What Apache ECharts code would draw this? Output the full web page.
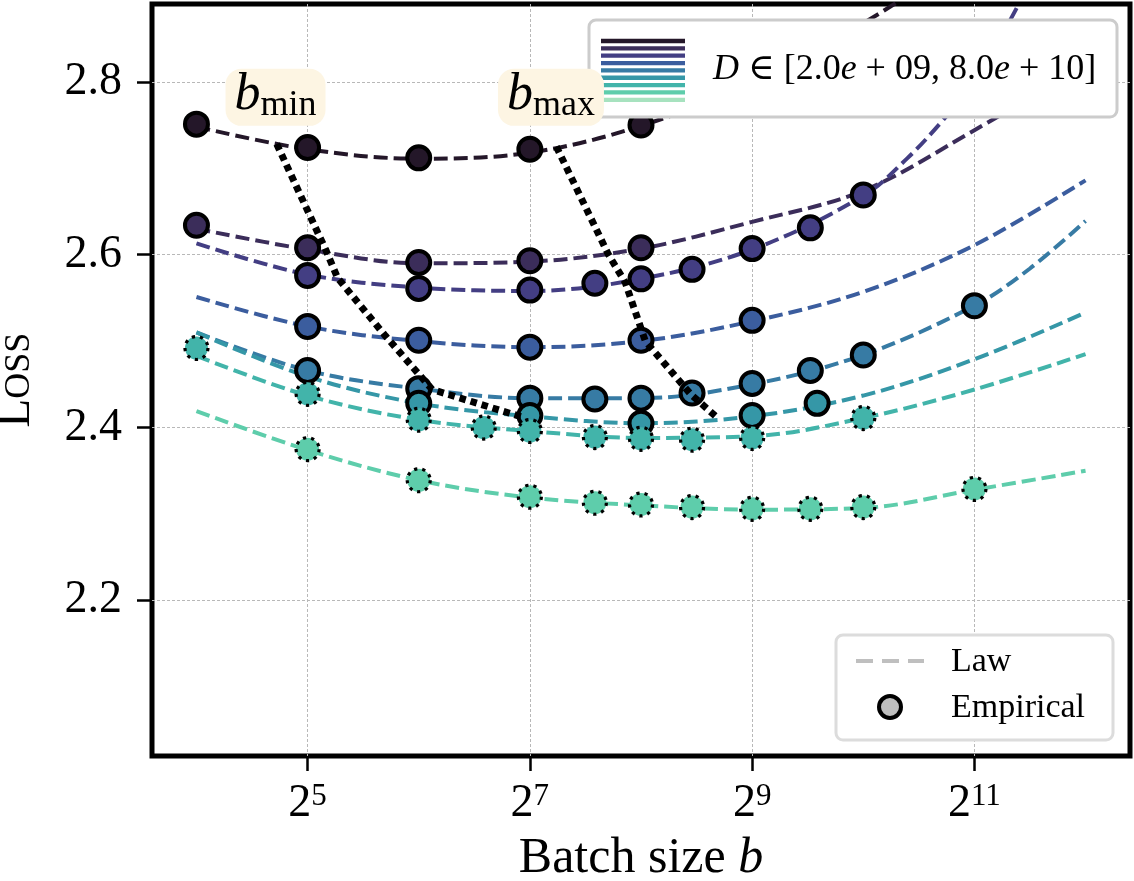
<!DOCTYPE html>
<html>
<head>
<meta charset="utf-8">
<title>Loss vs batch size</title>
<script src="https://cdn.jsdelivr.net/npm/echarts@6.0.0/dist/echarts.min.js"></script>
<style>
  html, body { margin: 0; padding: 0; background: #fff; }
  #chart { width: 1134px; height: 881px; }
</style>
</head>
<body>
<div id="chart"></div>
<script>
// empirical runs, one pair per data size D (darkest = smallest D)
var batchA = [16, 32, 64, 128, 256];
var lossA  = [2.751, 2.724, 2.712, 2.722, 2.750];
var batchB = [16, 32, 64, 128, 256];
var lossB  = [2.634, 2.608, 2.591, 2.593, 2.608];
var batchC = [32, 64, 128, 192, 256, 352, 512, 736, 1024];
var lossC  = [2.576, 2.561, 2.559, 2.567, 2.572, 2.583, 2.607, 2.631, 2.669];
var batchD = [32, 64, 128, 256, 512];
var lossD  = [2.517, 2.501, 2.493, 2.501, 2.524];
var batchE = [32, 64, 128, 192, 256, 352, 512, 736, 1024, 2048];
var lossE  = [2.466, 2.445, 2.434, 2.433, 2.434, 2.440, 2.451, 2.466, 2.484, 2.541];
var batchF = [64, 128, 256, 512, 768];
var lossF  = [2.428, 2.414, 2.405, 2.414, 2.428];
var batchG = [16, 32, 64, 96, 128, 192, 256, 352, 512, 1024];
var lossG  = [2.492, 2.439, 2.409, 2.400, 2.396, 2.389, 2.387, 2.386, 2.388, 2.411];
var batchH = [32, 64, 128, 192, 256, 352, 512, 736, 1024, 2048];
var lossH  = [2.375, 2.339, 2.320, 2.313, 2.311, 2.308, 2.306, 2.306, 2.308, 2.329];

// fitted law
var lawBatch = [16, 32, 64, 128, 256, 512, 1024, 2048, 4096];
var lawBatchA = [16, 32, 64, 128, 256, 512, 1024, 1351];
var lawA = [2.748, 2.722, 2.711, 2.718, 2.749, 2.800, 2.868, 2.900];
var lawB = [2.630, 2.606, 2.590, 2.592, 2.607, 2.638, 2.674, 2.744, 2.820];
var lawBatchC = [16, 32, 64, 128, 256, 512, 1024, 1351, 1663, 2048, 2702];
var lawC = [2.613, 2.577, 2.562, 2.558, 2.572, 2.606, 2.668, 2.712, 2.753, 2.800, 2.890];
var lawD = [2.551, 2.517, 2.500, 2.493, 2.500, 2.523, 2.557, 2.611, 2.686];
var lawBatchE = [16, 32, 64, 128, 256, 512, 1024, 2048, 2896, 4096];
var lawE = [2.510, 2.466, 2.445, 2.434, 2.434, 2.450, 2.484, 2.541, 2.584, 2.639];
var lawF = [2.510, 2.459, 2.428, 2.413, 2.405, 2.413, 2.437, 2.479, 2.533];
var lawG = [2.483, 2.437, 2.409, 2.396, 2.388, 2.390, 2.411, 2.444, 2.485];
var lawH = [2.419, 2.374, 2.339, 2.319, 2.310, 2.305, 2.307, 2.328, 2.350];

// b_min / b_max frontiers
var bminBatch = [26.4, 35.8, 38.6, 52.0, 69.6, 124.5];
var bminLoss  = [2.728, 2.606, 2.573, 2.506, 2.444, 2.411];
var bmaxBatch = [151, 209, 232, 263, 350, 413];
var bmaxLoss  = [2.725, 2.600, 2.568, 2.500, 2.438, 2.411];

var xTicks = [5, 7, 9, 11];
var yTicks = [2.2, 2.4, 2.6, 2.8];
var colors = ['#241729', '#3b2d5a', '#433e83', '#3b5d9e', '#377ba4', '#3597a7', '#42b4aa', '#5ecdab', '#a7e2bf'];

var FONT = '"Liberation Serif", "DejaVu Serif", serif';

var runs = [
  {name: 'A', b: batchA, l: lossA, lb: lawBatchA, ll: lawA, dotted: false},
  {name: 'B', b: batchB, l: lossB, lb: lawBatch, ll: lawB, dotted: false},
  {name: 'C', b: batchC, l: lossC, lb: lawBatchC, ll: lawC, dotted: false},
  {name: 'D', b: batchD, l: lossD, lb: lawBatch, ll: lawD, dotted: false},
  {name: 'E', b: batchE, l: lossE, lb: lawBatchE, ll: lawE, dotted: false},
  {name: 'F', b: batchF, l: lossF, lb: lawBatch, ll: lawF, dotted: false},
  {name: 'G', b: batchG, l: lossG, lb: lawBatch, ll: lawG, dotted: true},
  {name: 'H', b: batchH, l: lossH, lb: lawBatch, ll: lawH, dotted: true}
];

function pairs(bs, ls) {
  return bs.map(function (b, i) { return [Math.log2(b), ls[i]]; });
}

var series = [];
runs.forEach(function (r, i) {
  series.push({
    name: 'law' + r.name,
    type: 'line',
    data: pairs(r.lb, r.ll),
    smooth: 0.35,
    symbol: 'none',
    clip: true,
    silent: true,
    z: 2,
    lineStyle: {color: colors[i], width: 4, type: [14, 6]}
  });
});
runs.forEach(function (r, i) {
  series.push({
    name: 'emp' + r.name,
    type: 'scatter',
    data: pairs(r.b, r.l),
    symbol: 'circle',
    symbolSize: 23,
    silent: true,
    z: 3,
    itemStyle: r.dotted
      ? {color: colors[i], opacity: 1, borderColor: '#000', borderWidth: 3.2, borderType: [3.2, 5]}
      : {color: colors[i], opacity: 1, borderColor: '#000', borderWidth: 4}
  });
});
series.push({
  name: 'bmin', type: 'line', data: pairs(bminBatch, bminLoss),
  symbol: 'none', silent: true, z: 4,
  lineStyle: {color: '#000', width: 7, type: [6.5, 5]}
});
series.push({
  name: 'bmax', type: 'line', data: pairs(bmaxBatch, bmaxLoss),
  symbol: 'none', silent: true, z: 4,
  lineStyle: {color: '#000', width: 7, type: [6.5, 5]}
});

var chart = echarts.init(document.getElementById('chart'), null, {renderer: 'canvas'});

var option = {
  animation: false,
  backgroundColor: '#fff',
  grid: {
    left: 152, right: 4, top: 4, bottom: 125,
    show: true, borderColor: '#000', borderWidth: 5,
    containLabel: false, outerBoundsMode: 'none'
  },
  xAxis: {
    type: 'value',
    min: 3.6, max: 12.4,
    axisLine: {show: false},
    axisTick: {show: true, length: 15, customValues: xTicks, lineStyle: {color: '#000', width: 2.5}},
    axisLabel: {
      customValues: xTicks,
      margin: 25,
      formatter: function (v) { return '{base|2}{sup|' + Math.round(v) + '}'; },
      rich: {
        base: {fontFamily: FONT, fontSize: 46, lineHeight: 46, color: '#000', verticalAlign: 'bottom'},
        sup: {fontFamily: FONT, fontSize: 31, lineHeight: 31, color: '#000', verticalAlign: 'bottom', padding: [0, 0, 15, 0]}
      }
    },
    splitLine: {show: true, lineStyle: {color: '#b8b8b8', width: 1, type: [3, 2]}},
    name: '{t|Batch size }{i|b}',
    nameLocation: 'middle',
    nameGap: 78,
    nameTextStyle: {
      rich: {
        t: {fontFamily: FONT, fontSize: 50, lineHeight: 50, color: '#000'},
        i: {fontFamily: FONT, fontSize: 50, lineHeight: 50, fontStyle: 'italic', color: '#000'}
      }
    }
  },
  yAxis: {
    type: 'value',
    min: 2.02, max: 2.89,
    axisLine: {show: false},
    axisTick: {show: true, length: 15, customValues: yTicks, lineStyle: {color: '#000', width: 2.5}},
    axisLabel: {
      customValues: yTicks,
      margin: 30,
      formatter: function (v) { return v.toFixed(1); },
      fontFamily: FONT, fontSize: 46, color: '#000'
    },
    splitLine: {show: true, lineStyle: {color: '#b8b8b8', width: 1, type: [3, 2]}},
    name: '{L|L}{s|OSS}',
    nameLocation: 'middle',
    nameGap: 112,
    nameTextStyle: {
      rich: {
        L: {fontFamily: FONT, fontSize: 47, lineHeight: 47, color: '#000', verticalAlign: 'bottom'},
        s: {fontFamily: FONT, fontSize: 36, lineHeight: 36, color: '#000', verticalAlign: 'bottom', padding: [0, 0, 2, 0]}
      }
    }
  },
  series: series
};
chart.setOption(option);

// annotations and legends
var labelBatch = [26.2, 146];
var labelLoss = [2.782, 2.782];
var labelSub = ['min', 'max'];

var g = [];
g.push({type: 'rect', z: 100, shape: {x: 589, y: 20, width: 528, height: 97, r: 7},
  style: {fill: '#fff', stroke: '#cccccc', lineWidth: 3}});
colors.forEach(function (c, i) {
  var y = 41 + i * 7.35;
  g.push({type: 'line', z: 101, shape: {x1: 601, y1: y, x2: 685, y2: y}, style: {stroke: c, lineWidth: 4.3}});
});
g.push({type: 'text', z: 101, x: 713, y: 70, style: {
  text: '{i|D}{n| ∈ [2.0}{i|e}{n| + 09, 8.0}{i|e}{n| + 10]}',
  verticalAlign: 'middle', align: 'left',
  rich: {
    i: {fontFamily: FONT, fontSize: 36, fontStyle: 'italic', fill: '#000'},
    n: {fontFamily: FONT, fontSize: 36, fill: '#000'}
  }
}});

g.push({type: 'rect', z: 100, shape: {x: 836, y: 635, width: 277, height: 105, r: 7},
  style: {fill: '#fff', stroke: '#dcdcdc', lineWidth: 3}});
g.push({type: 'line', z: 101, shape: {x1: 856, y1: 661, x2: 924, y2: 661},
  style: {stroke: '#bfbfbf', lineWidth: 4, lineDash: [17, 9]}});
g.push({type: 'text', z: 101, x: 951, y: 662, style: {text: 'Law', fontFamily: FONT, fontSize: 34, fill: '#000', verticalAlign: 'middle'}});
g.push({type: 'circle', z: 101, shape: {cx: 890, cy: 707, r: 11},
  style: {fill: '#bfbfbf', stroke: '#000', lineWidth: 4}});
g.push({type: 'text', z: 101, x: 951, y: 708, style: {text: 'Empirical', fontFamily: FONT, fontSize: 34, fill: '#000', verticalAlign: 'middle'}});

labelBatch.forEach(function (b, i) {
  var p = chart.convertToPixel({gridIndex: 0}, [Math.log2(b), labelLoss[i]]);
  g.push({type: 'text', z: 110, x: p[0], y: p[1], style: {
    text: '{b|b}{s|' + labelSub[i] + '}',
    align: 'center', verticalAlign: 'middle',
    backgroundColor: '#fdf5e3', borderRadius: 16, padding: [3, 9, 2, 9],
    rich: {
      b: {fontFamily: FONT, fontSize: 52, lineHeight: 52, fontStyle: 'italic', fill: '#000', verticalAlign: 'bottom', padding: [0, 0, 3, 0]},
      s: {fontFamily: FONT, fontSize: 36, lineHeight: 36, fill: '#000', verticalAlign: 'bottom'}
    }
  }});
});

chart.setOption({graphic: {elements: g}});
</script>
</body>
</html>
